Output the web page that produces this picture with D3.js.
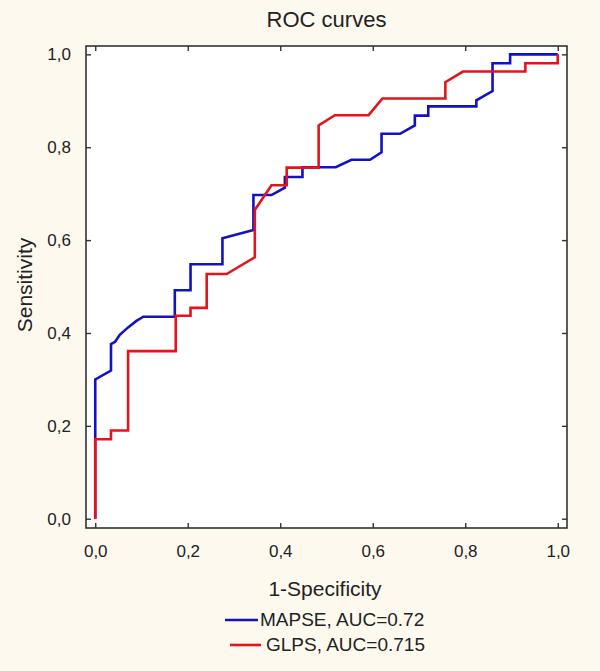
<!DOCTYPE html>
<html>
<head>
<meta charset="utf-8">
<script src="https://cdn.jsdelivr.net/npm/d3@7"></script>
<style>
  html, body { margin: 0; padding: 0; background: #fdf9ef; }
  svg { display: block; }
  text { font-family: "Liberation Sans", Arial, sans-serif; fill: #222; }
</style>
</head>
<body>
<svg id="chart" width="600" height="671"></svg>
<script>
const title = "ROC curves";
const xLabel = "1-Specificity";
const yLabel = "Sensitivity";
const tickValues = [0, 0.2, 0.4, 0.6, 0.8, 1.0];

const seriesNames = ["MAPSE, AUC=0.72", "GLPS, AUC=0.715"];
const seriesColors = ["#1212c4", "#e3141c"];

const mapseFpr = [0, 0, 0.034, 0.034, 0.043, 0.053, 0.071, 0.089, 0.104, 0.172, 0.172, 0.206, 0.206, 0.275, 0.275, 0.342, 0.342, 0.381, 0.41, 0.41, 0.448, 0.448, 0.52, 0.554, 0.594, 0.619, 0.619, 0.659, 0.691, 0.691, 0.72, 0.72, 0.824, 0.824, 0.859, 0.859, 0.897, 0.897, 1.0];
const mapseTpr = [0, 0.30, 0.319, 0.376, 0.381, 0.396, 0.412, 0.426, 0.435, 0.435, 0.492, 0.492, 0.548, 0.548, 0.604, 0.622, 0.697, 0.697, 0.713, 0.736, 0.736, 0.757, 0.757, 0.773, 0.773, 0.789, 0.829, 0.829, 0.847, 0.868, 0.868, 0.888, 0.888, 0.901, 0.921, 0.981, 0.981, 1.0, 1.0];

const glpsFpr = [0, 0, 0.034, 0.034, 0.071, 0.071, 0.174, 0.174, 0.206, 0.206, 0.241, 0.241, 0.284, 0.345, 0.345, 0.381, 0.414, 0.414, 0.483, 0.483, 0.518, 0.591, 0.621, 0.757, 0.757, 0.795, 0.930, 0.930, 1.0, 1.0];
const glpsTpr = [0, 0.171, 0.171, 0.19, 0.19, 0.361, 0.361, 0.437, 0.437, 0.454, 0.454, 0.527, 0.527, 0.563, 0.665, 0.718, 0.718, 0.756, 0.756, 0.847, 0.869, 0.869, 0.905, 0.905, 0.94, 0.963, 0.963, 0.981, 0.981, 1.0];

const series = [
  { name: seriesNames[0], color: seriesColors[0], pts: mapseFpr.map((f, i) => [f, mapseTpr[i]]) },
  { name: seriesNames[1], color: seriesColors[1], pts: glpsFpr.map((f, i) => [f, glpsTpr[i]]) }
];

const svg = d3.select("#chart");
const pLeft = 86, pRight = 567, pTop = 46, pBottom = 528;

const x = d3.scaleLinear().domain([-0.02, 1.02]).range([pLeft, pRight]);
const y = d3.scaleLinear().domain([-0.02, 1.018]).range([pBottom, pTop]);

const fmt = d => d.toFixed(1).replace(".", ",");

svg.append("rect")
  .attr("x", pLeft).attr("y", pTop)
  .attr("width", pRight - pLeft).attr("height", pBottom - pTop)
  .attr("fill", "#ffffff");

// Lines
const line = d3.line().x(d => x(d[0])).y(d => y(d[1]));
svg.selectAll("path.series")
  .data(series)
  .join("path")
  .attr("class", "series")
  .attr("d", d => line(d.pts))
  .attr("fill", "none")
  .attr("stroke", d => d.color)
  .attr("stroke-width", 2.6)
  .attr("stroke-linejoin", "miter");

// Axes
function styleAxis(g) {
  g.select(".domain").remove();
  g.selectAll(".tick line").attr("stroke", "#333").attr("stroke-width", 1.4);
  g.selectAll(".tick text")
    .attr("fill", "#222")
    .style("font-family", '"Liberation Sans", Arial, sans-serif')
    .style("font-size", "17px");
}

svg.append("g")
  .attr("transform", `translate(0,${pBottom})`)
  .call(d3.axisBottom(x).tickValues(tickValues).tickSize(-5).tickPadding(17).tickFormat(fmt))
  .call(styleAxis);

svg.append("g")
  .attr("transform", `translate(${pLeft},0)`)
  .call(d3.axisLeft(y).tickValues(tickValues).tickSize(-5).tickPadding(15).tickFormat(fmt))
  .call(styleAxis);

svg.append("g")
  .attr("transform", `translate(0,${pTop})`)
  .call(d3.axisTop(x).tickValues(tickValues).tickSize(-5).tickFormat(""))
  .call(styleAxis);

svg.append("g")
  .attr("transform", `translate(${pRight},0)`)
  .call(d3.axisRight(y).tickValues(tickValues).tickSize(-5).tickFormat(""))
  .call(styleAxis);

// Frame
svg.append("rect")
  .attr("x", pLeft).attr("y", pTop)
  .attr("width", pRight - pLeft).attr("height", pBottom - pTop)
  .attr("fill", "none")
  .attr("stroke", "#333")
  .attr("stroke-width", 1.6);

// Title & labels
svg.append("text")
  .attr("x", (pLeft + pRight) / 2).attr("y", 27)
  .attr("text-anchor", "middle")
  .style("font-size", "22px")
  .text(title);

svg.append("text")
  .attr("x", 325).attr("y", 596)
  .attr("text-anchor", "middle")
  .style("font-size", "21px")
  .text(xLabel);

svg.append("text")
  .attr("transform", "translate(32,285) rotate(-90)")
  .attr("text-anchor", "middle")
  .style("font-size", "21px")
  .text(yLabel);

// Legend
const legendRows = [
  { x1: 225, x2: 258, ly: 620, tx: 260, ty: 626 },
  { x1: 230, x2: 261, ly: 645, tx: 266, ty: 651 }
];
const lg = svg.append("g");
series.forEach((s, i) => {
  const r = legendRows[i];
  lg.append("line")
    .attr("x1", r.x1).attr("x2", r.x2)
    .attr("y1", r.ly).attr("y2", r.ly)
    .attr("stroke", s.color).attr("stroke-width", 2.6);
  lg.append("text")
    .attr("x", r.tx).attr("y", r.ty)
    .style("font-size", "19px")
    .text(s.name);
});
</script>
</body>
</html>
